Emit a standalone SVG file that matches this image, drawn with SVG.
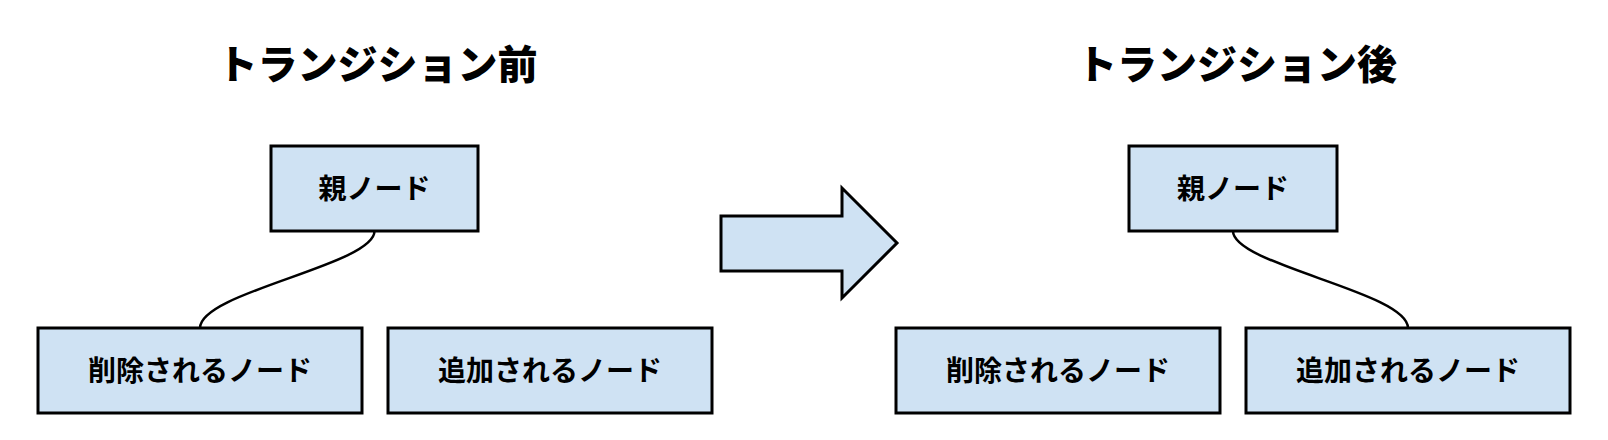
<svg xmlns="http://www.w3.org/2000/svg" width="1608" height="440" viewBox="0 0 1608 440">
<style>
.node rect{fill:#cfe2f3;stroke:#000;stroke-width:3}
.lbl{font-family:"Noto Sans CJK JP","Noto Sans",sans-serif;font-weight:bold;font-size:28px;text-anchor:middle;fill:#000}
.title{font-family:"Noto Sans CJK JP","Noto Sans",sans-serif;font-weight:900;font-size:40px;text-anchor:middle;fill:#000}
.conn path{fill:none;stroke:#000;stroke-width:2.5}
</style>
<rect width="1608" height="440" fill="#fff"/>
<text class="title" x="377.5" y="79">トランジション前</text>
<text class="title" x="1237" y="79">トランジション後</text>
<g id="connectors" class="conn">
<path d="M374.5,231 C374.5,265 200,292 200,328"/>
<path d="M1233,231 C1233,265 1408,292 1408,328"/>
</g>
<g id="arrow">
<path d="M721,216 L842,216 L842,188 L897,243 L842,298 L842,271 L721,271 Z" fill="#cfe2f3" stroke="#000" stroke-width="3" stroke-linejoin="miter"/>
</g>
<g id="before-parent" class="node"><rect x="271" y="146" width="207" height="85"/><text class="lbl" x="374.5" y="199">親ノード</text></g>
<g id="before-removed" class="node"><rect x="38" y="328" width="324" height="85"/><text class="lbl" x="200" y="381">削除されるノード</text></g>
<g id="before-added" class="node"><rect x="388" y="328" width="324" height="85"/><text class="lbl" x="550" y="381">追加されるノード</text></g>
<g id="after-parent" class="node"><rect x="1129" y="146" width="208" height="85"/><text class="lbl" x="1233" y="199">親ノード</text></g>
<g id="after-removed" class="node"><rect x="896" y="328" width="324" height="85"/><text class="lbl" x="1058" y="381">削除されるノード</text></g>
<g id="after-added" class="node"><rect x="1246" y="328" width="324" height="85"/><text class="lbl" x="1408" y="381">追加されるノード</text></g>
</svg>
